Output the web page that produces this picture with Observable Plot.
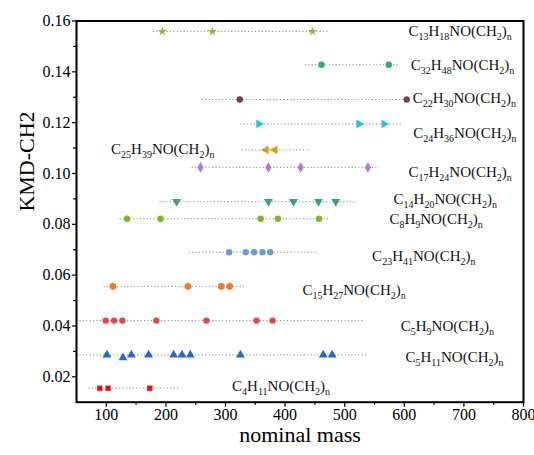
<!DOCTYPE html>
<html><head><meta charset="utf-8">
<script src="https://cdn.jsdelivr.net/npm/d3@7"></script>
<script src="https://cdn.jsdelivr.net/npm/@observablehq/plot@0.6"></script>
<style>body{margin:0;background:#fff} svg text{font-family:"Liberation Serif",serif}</style>
</head><body><div id="chart"></div>
<script>
// ---- data ----
const formulas = ["C13H18NO(CH2)n","C32H48NO(CH2)n","C22H30NO(CH2)n","C24H36NO(CH2)n","C25H39NO(CH2)n","C17H24NO(CH2)n","C14H20NO(CH2)n","C8H9NO(CH2)n","C23H41NO(CH2)n","C15H27NO(CH2)n","C5H9NO(CH2)n","C5H11NO(CH2)n","C4H11NO(CH2)n"];
const masses = [
  [194, 278, 446],
  [461, 574],
  [324, 604],
  [356, 524, 566],
  [368, 383],
  [258, 372, 426, 539],
  [218, 372, 414, 456, 485],
  [135, 191, 359, 388, 457],
  [306, 334, 348, 362, 375],
  [111, 237, 293, 307],
  [99, 113, 127, 184, 268, 352, 379],
  [101, 128, 142, 171, 213, 227, 241, 325, 464, 479],
  [89, 103, 173]
];
const kmd = [
  [0.1559, 0.1559, 0.1559],
  [0.1428, 0.1428],
  [0.1291, 0.1291],
  [0.1195, 0.1195, 0.1195],
  [0.1093, 0.1093],
  [0.1024, 0.1024, 0.1024, 0.1024],
  [0.0889, 0.0889, 0.0889, 0.0889, 0.0889],
  [0.0822, 0.0822, 0.0822, 0.0822, 0.0822],
  [0.0690, 0.0690, 0.0690, 0.0690, 0.0690],
  [0.0556, 0.0556, 0.0556, 0.0556],
  [0.0421, 0.0421, 0.0421, 0.0421, 0.0421, 0.0421, 0.0421],
  [0.0286, 0.0275, 0.0286, 0.0286, 0.0286, 0.0286, 0.0286, 0.0286, 0.0286, 0.0286],
  [0.0155, 0.0155, 0.0155]
];
const lineKmd   = [0.1559,0.1428,0.1291,0.1195,0.1093,0.1024,0.0889,0.0822,0.0690,0.0556,0.0421,0.0286,0.0155];
const lineStart = [179, 434, 261, 325, 328, 244, 190, 123, 239, 96, 50, 50, 71];
const lineEnd   = [476, 594, 604, 597, 443, 557, 521, 476, 456, 334, 535, 540, 225];
const labelX = [607, 611, 614, 615, 108, 607, 582, 575, 546, 429, 594, 602, 311];
const labelY = [0.1559, 0.1425, 0.1295, 0.1157, 0.1094, 0.1005, 0.0897, 0.0822, 0.0673, 0.0540, 0.0401, 0.0279, 0.0163];
const xTicks = [100, 200, 300, 400, 500, 600, 700, 800];
const xMinor = [150, 250, 350, 450, 550, 650, 750];
const yTicks = [0.02, 0.04, 0.06, 0.08, 0.10, 0.12, 0.14, 0.16];
const yMinor = [0.03, 0.05, 0.07, 0.09, 0.11, 0.13, 0.15];

// ---- styles ----
const FONT = "Liberation Serif";
const colors = ["#a9a832","#2fae6c","#7a3e4e","#1fc6d6","#d2a214","#b47ad6","#39a475","#79b928","#6a9bd2","#f07a28","#e4464f","#2767c6","#e5141b"];
const sq3 = Math.sqrt(3);
const triSym = (dir) => ({draw(ctx, size) {
  const a = Math.sqrt(size / (sq3 * 3));
  let p;
  if (dir === "up") p = [[0,-2*a],[-sq3*a,a],[sq3*a,a]];
  else if (dir === "down") p = [[0,2*a],[-sq3*a,-a],[sq3*a,-a]];
  else if (dir === "right") p = [[2*a,0],[-a,-sq3*a],[-a,sq3*a]];
  else p = [[-2*a,0],[a,-sq3*a],[a,sq3*a]];
  ctx.moveTo(p[0][0],p[0][1]); ctx.lineTo(p[1][0],p[1][1]); ctx.lineTo(p[2][0],p[2][1]); ctx.closePath();
}});
const symbols = ["star","circle","circle",triSym("right"),triSym("left"),"diamond",triSym("down"),"circle","circle","hexagon","circle",triSym("up"),"square"];
const sizes = [2.9,3.2,3.2,3.3,3.3,3.3,3.3,3.2,3.2,3.3,3.2,3.3,3.0];

// ---- tables ----
const lines = formulas.map((f, i) => ({f, y: lineKmd[i], x1: lineStart[i], x2: lineEnd[i]}));
const labels = formulas.map((f, i) => ({f, x: labelX[i], y: labelY[i]}));

const dotMarks = formulas.map((f, i) => Plot.dot(
  masses[i].map((m, j) => ({m, k: kmd[i][j]})),
  {x: "m", y: "k", symbol: symbols[i], fill: colors[i], stroke: "none", r: sizes[i]}
));

const chart = Plot.plot({
  width: 534, height: 455,
  marginLeft: 76, marginRight: 11, marginTop: 20.5, marginBottom: 53.3,
  style: {fontFamily: FONT, fontSize: "16px", background: "white", color: "black"},
  x: {domain: [50, 800], axis: null},
  y: {domain: [0.01, 0.16], axis: null},
  marks: [
    Plot.ruleY(lines, {y: "y", x1: "x1", x2: "x2", stroke: "#8a8a8a", strokeWidth: 1, strokeDasharray: "1.2,2.2"}),
    ...dotMarks,
    Plot.text(labels, {x: "x", y: "y", text: "f", textAnchor: "start", fontSize: 15, fontFamily: FONT, fill: "#111"}),
    Plot.axisX({ticks: xTicks, tickSize: 5, tickPadding: 1, fontSize: 16, fontFamily: FONT, label: null, strokeWidth: 1.2}),
    Plot.axisX({ticks: xMinor, tickSize: 3, tickFormat: () => "", label: null, strokeWidth: 1.2}),
    Plot.axisY({ticks: yTicks, tickSize: 4, tickPadding: 2, tickFormat: d3.format(".2f"), fontSize: 16, fontFamily: FONT, label: null, strokeWidth: 1.2}),
    Plot.axisY({ticks: yMinor, tickSize: 3, tickFormat: () => "", label: null, strokeWidth: 1.2}),
    Plot.frame({stroke: "black", strokeWidth: 2}),
    Plot.text(["KMD-CH2"], {frameAnchor: "left", rotate: -90, dx: -50, fontSize: 22, fontFamily: FONT}),
    Plot.text(["nominal mass"], {frameAnchor: "bottom", dy: 40, fontSize: 22, fontFamily: FONT})
  ]
});

// subscripts for chemical formulas
d3.select(chart).selectAll("text").filter(function() { return /NO\(CH/.test(this.textContent); }).each(function() {
  const s = this.textContent;
  const tokens = [];
  for (let i = 0; i < s.length; i++) {
    const c = s[i];
    const sub = /[0-9]/.test(c) || (c === "n" && i === s.length - 1);
    const last = tokens[tokens.length - 1];
    if (last && last.sub === sub) last.t += c; else tokens.push({t: c, sub});
  }
  const el = d3.select(this);
  el.text(null);
  let down = false;
  tokens.forEach(tok => {
    const ts = el.append("tspan").text(tok.t);
    if (tok.sub) { ts.attr("font-size", 10); if (!down) ts.attr("dy", 4); down = true; }
    else { if (down) ts.attr("dy", -4); down = false; }
  });
});

document.getElementById("chart").append(chart);
</script>
</body></html>
